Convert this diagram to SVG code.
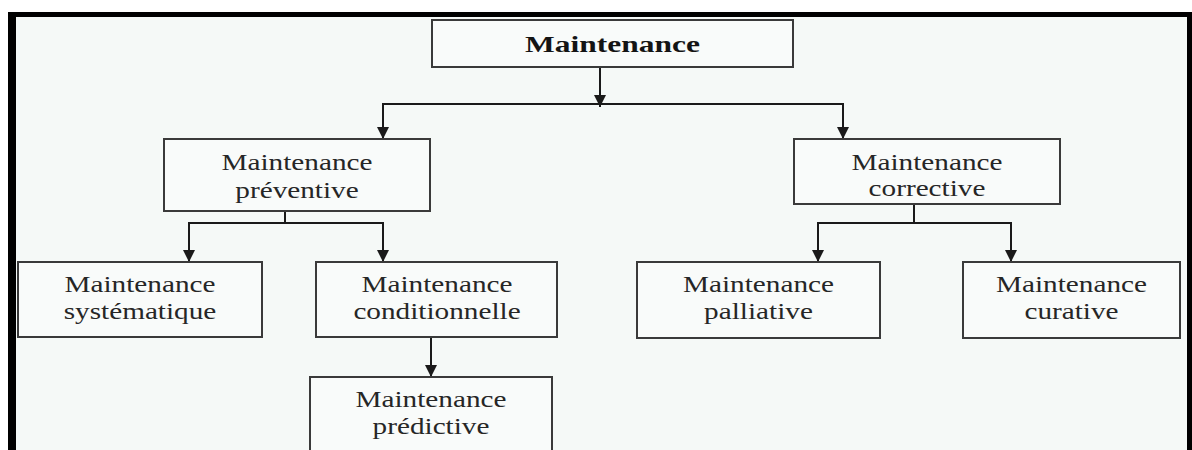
<svg xmlns="http://www.w3.org/2000/svg" width="1192" height="450" viewBox="0 0 1192 450">
<style>
.box{fill:#f9fbfa;stroke:#3a3a3a;stroke-width:2}
.t{font-family:"Liberation Serif","Times New Roman",serif;font-size:22.5px;fill:#262626;text-anchor:middle}
.b{font-weight:bold;fill:#141414}
.c{fill:none;stroke:#1a1a1a;stroke-width:2}
</style>
<defs>
<marker id="ah" viewBox="0 0 12 12" refX="12" refY="6" markerWidth="12" markerHeight="12" markerUnits="userSpaceOnUse" orient="auto">
<path d="M0,0 L12,6 L0,12 z" fill="#1a1a1a"/>
</marker>
</defs>
<rect width="1192" height="450" fill="#ffffff"/>
<rect x="8" y="12" width="1184" height="438" fill="#f5f9f7"/>
<rect x="8" y="12" width="1184" height="5" fill="#000"/>
<rect x="8" y="12" width="8" height="438" fill="#000"/>
<rect x="1187" y="12" width="5" height="438" fill="#000"/>
<g id="connectors">
<path class="c" d="M600,67 V107" marker-end="url(#ah)"/>
<path class="c" d="M600,104 H383 V139" marker-end="url(#ah)"/>
<path class="c" d="M600,104 H843 V139" marker-end="url(#ah)"/>
<path class="c" d="M285,211 V223 H189 V262" marker-end="url(#ah)"/>
<path class="c" d="M285,223 H383 V262" marker-end="url(#ah)"/>
<path class="c" d="M914,204 V223 H818 V262" marker-end="url(#ah)"/>
<path class="c" d="M914,223 H1011 V262" marker-end="url(#ah)"/>
<path class="c" d="M431,337 V377" marker-end="url(#ah)"/>
</g>
<g id="maintenance">
<rect class="box" x="432" y="20" width="361" height="47"/>
<text class="t b" transform="translate(612.5,52) scale(1.4,1)">Maintenance</text>
</g>
<g id="preventive">
<rect class="box" x="164" y="139" width="266" height="72"/>
<text class="t" transform="translate(297,170) scale(1.3,1)">Maintenance</text>
<text class="t" transform="translate(297,198) scale(1.3,1)">préventive</text>
</g>
<g id="corrective">
<rect class="box" x="794" y="139" width="266" height="65"/>
<text class="t" transform="translate(927,170) scale(1.3,1)">Maintenance</text>
<text class="t" transform="translate(927,196) scale(1.3,1)">corrective</text>
</g>
<g id="systematique">
<rect class="box" x="18" y="262" width="244" height="75"/>
<text class="t" transform="translate(140,292) scale(1.3,1)">Maintenance</text>
<text class="t" transform="translate(140,319) scale(1.3,1)">systématique</text>
</g>
<g id="conditionnelle">
<rect class="box" x="316" y="262" width="241" height="75"/>
<text class="t" transform="translate(437,292) scale(1.3,1)">Maintenance</text>
<text class="t" transform="translate(437,319) scale(1.3,1)">conditionnelle</text>
</g>
<g id="palliative">
<rect class="box" x="637" y="262" width="243" height="76"/>
<text class="t" transform="translate(758.5,292) scale(1.3,1)">Maintenance</text>
<text class="t" transform="translate(758.5,319) scale(1.3,1)">palliative</text>
</g>
<g id="curative">
<rect class="box" x="963" y="262" width="217" height="76"/>
<text class="t" transform="translate(1071.5,292) scale(1.3,1)">Maintenance</text>
<text class="t" transform="translate(1071.5,319) scale(1.3,1)">curative</text>
</g>
<g id="predictive">
<rect class="box" x="310" y="377" width="242" height="80"/>
<text class="t" transform="translate(431,407) scale(1.3,1)">Maintenance</text>
<text class="t" transform="translate(431,434) scale(1.3,1)">prédictive</text>
</g>
</svg>
